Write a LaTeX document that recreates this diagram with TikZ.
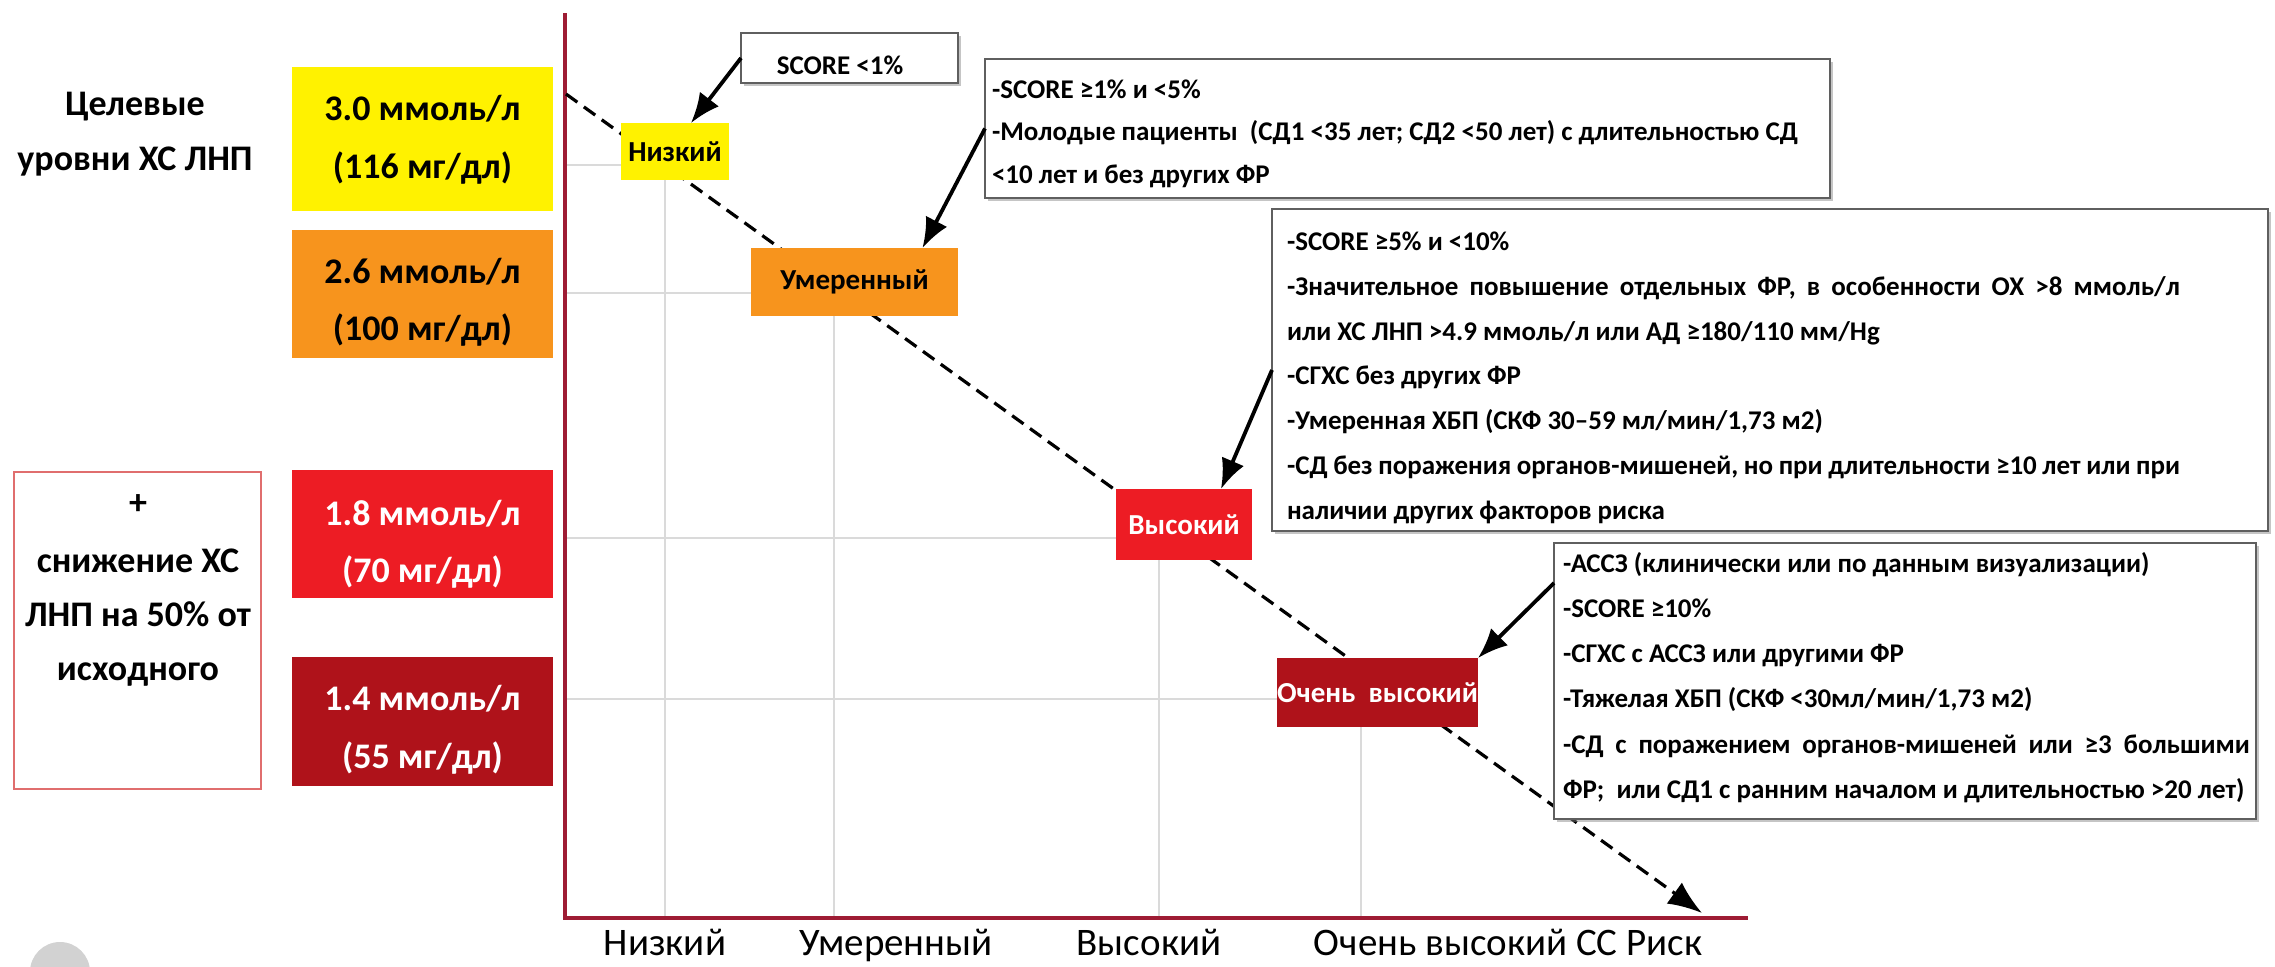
\documentclass[tikz,border=0pt]{standalone}
\usepackage{fontspec}
\setmainfont{Carlito}
\usetikzlibrary{arrows.meta,shadows}
\definecolor{cyel}{RGB}{255,242,0}
\definecolor{corg}{RGB}{247,148,29}
\definecolor{cred}{RGB}{237,28,36}
\definecolor{cdred}{RGB}{175,18,26}
\definecolor{caxis}{RGB}{158,28,52}
\definecolor{cgrid}{RGB}{218,218,218}
\definecolor{cbord}{RGB}{95,95,95}
\definecolor{cpink}{RGB}{224,110,110}
\begin{document}
\begin{tikzpicture}[x=0.5pt,y=-0.5pt,
  every node/.style={inner sep=0pt, outer sep=0pt},
  valbox/.style={rectangle, minimum width=130.5pt},
  big/.style={font=\fontsize{18pt}{18pt}\selectfont\bfseries, anchor=base},
  small/.style={font=\fontsize{13.5pt}{13.5pt}\selectfont\bfseries, anchor=base west},
  risklab/.style={rectangle, font=\fontsize{14.5pt}{14.5pt}\selectfont\bfseries},
  callout/.style={rectangle, draw=cbord, line width=1pt, fill=white,
    drop shadow={shadow xshift=1.5pt, shadow yshift=-1.5pt, opacity=0.45, fill=gray}},
  gridln/.style={draw=cgrid, line width=1pt},
  axisln/.style={draw=caxis, line width=1.6pt},
  trend/.style={draw=black, line width=1.6pt, dash pattern=on 7pt off 4pt},
  callarrow/.style={draw=black, line width=1.9pt, -{Latex[length=15pt,width=12pt]}},
  xlab/.style={font=\fontsize{19.5pt}{19.5pt}\selectfont, anchor=base},
]
\fill[white] (0,0) rectangle (2275,966);
\useasboundingbox (0,0) rectangle (2275,966);

% gray circle fragment
\fill[gray!35] (60,972) circle[radius=15pt];

% grid lines
\draw[gridln] (565,165) -- (621,165);
\draw[gridln] (565,293) -- (751,293);
\draw[gridln] (565,538) -- (1116,538);
\draw[gridln] (565,699) -- (1277,699);
\draw[gridln] (665,180) -- (665,918);
\draw[gridln] (834,316) -- (834,918);
\draw[gridln] (1159,560) -- (1159,918);
\draw[gridln] (1361,727) -- (1361,918);

% axes
\coordinate (ytop) at (565,13);
\coordinate (orig) at (565,918);
\coordinate (xend) at (1748,918);
\draw[axisln] (ytop) -- (orig) -- (xend);

% trend line
\coordinate (tstart) at (566,94);
\coordinate (tend) at (1702,913);
\draw[trend, -{Latex[length=17pt,width=13pt]}] (tstart) -- (tend);

% left header
\node[big] (hd1) at (135,115) {Целевые};
\node[big] (hd2) at (135,170) {уровни ХС ЛНП};

% target value boxes
\node[valbox, fill=cyel, minimum height=72pt] (v30) at (422.5,139) {};
\node[big] (v30a) at (422.5,120) {3.0 ммоль/л};
\node[big] (v30b) at (422.5,178) {(116 мг/дл)};
\node[valbox, fill=corg, minimum height=64pt] (v26) at (422.5,294) {};
\node[big] (v26a) at (422.5,283) {2.6 ммоль/л};
\node[big] (v26b) at (422.5,340) {(100 мг/дл)};
\node[valbox, fill=cred, minimum height=64pt] (v18) at (422.5,534) {};
\node[big, text=white] (v18a) at (422.5,525) {1.8 ммоль/л};
\node[big, text=white] (v18b) at (422.5,582) {(70 мг/дл)};
\node[valbox, fill=cdred, minimum height=64.5pt] (v14) at (422.5,721.5) {};
\node[big, text=white] (v14a) at (422.5,710) {1.4 ммоль/л};
\node[big, text=white] (v14b) at (422.5,768) {(55 мг/дл)};

% pink box
\node[rectangle, draw=cpink, line width=0.7pt, minimum width=123.5pt, minimum height=158.5pt] (pk) at (137.5,630.5) {};
\node[big] (pk1) at (138,514) {+};
\node[big] (pk2) at (138,572) {снижение ХС};
\node[big] (pk3) at (138,626) {ЛНП на 50\% от};
\node[big] (pk4) at (138,680) {исходного};

% risk boxes
\node[risklab, fill=cyel, minimum width=54pt, minimum height=28.5pt] (low) at (675,151.5) {Низкий};
\node[risklab, fill=corg, minimum width=103.5pt, minimum height=34pt] (mod) at (854.5,282) {Умеренный};
\node[risklab, fill=cred, text=white, minimum width=68pt, minimum height=35.5pt] (high) at (1184,524.5) {Высокий};
\node[risklab, fill=cdred, text=white, minimum width=100.5pt, minimum height=34.5pt] (vhigh) at (1377.5,692.5) {Очень~~высокий};

% callout boxes
\node[callout, minimum width=108.5pt, minimum height=25pt] (sc1) at (849.5,58) {};
\node[callout, minimum width=422.5pt, minimum height=69.5pt] (sc2) at (1407.5,128.5) {};
\node[callout, minimum width=498pt, minimum height=161pt] (sc3) at (1770,370) {};
\node[callout, minimum width=351pt, minimum height=138pt] (sc4) at (1905,681) {};

% callout arrows
\draw[callarrow] (sc1.west) -- ([xshift=8pt]low.north);
\draw[callarrow] (sc2.west) -- ([xshift=34pt]mod.north);
\draw[callarrow] (sc3.west) -- ([xshift=18.5pt]high.north);
\draw[callarrow] ([yshift=49pt]sc4.west) -- (vhigh.north east);

% callout texts
\node[small, anchor=base] (t1) at (840,74) {SCORE <1\%};

\node[small] (t2a) at (992,98) {-SCORE ≥1\% и <5\%};
\node[small] (t2b) at (992,140) {-Молодые пациенты~~(СД1 <35 лет; СД2 <50 лет) с длительностью СД};
\node[small] (t2c) at (992,183) {<10 лет и без других ФР};

\node[small] (t3a) at (1287,250) {-SCORE ≥5\% и <10\%};
\node[small] (t3b) at (1287,295) {\makebox[446.5pt][s]{-Значительное повышение отдельных ФР, в особенности ОХ >8 ммоль/л}};
\node[small] (t3c) at (1287,340) {или ХС ЛНП >4.9 ммоль/л или АД ≥180/110 мм/Hg};
\node[small] (t3d) at (1287,384) {-СГХС без других ФР};
\node[small] (t3e) at (1287,429) {-Умеренная ХБП (СКФ 30–59 мл/мин/1,73 м2)};
\node[small] (t3f) at (1287,474) {\makebox[446.5pt][s]{-СД без поражения органов-мишеней, но при длительности ≥10 лет или при}};
\node[small] (t3g) at (1287,519) {наличии других факторов риска};

\node[small] (t4a) at (1563,572) {-АССЗ (клинически или по данным визуализации)};
\node[small] (t4b) at (1563,617) {-SCORE ≥10\%};
\node[small] (t4c) at (1563,662) {-СГХС с АССЗ или другими ФР};
\node[small] (t4d) at (1563,707) {-Тяжелая ХБП (СКФ <30мл/мин/1,73 м2)};
\node[small] (t4e) at (1563,753) {\makebox[343.5pt][s]{-СД с поражением органов-мишеней или ≥3 большими}};
\node[small] (t4f) at (1563,798) {ФР;~~или СД1 с ранним началом и длительностью >20 лет)};

% x-axis labels
\node[xlab] (x1) at (665,955) {Низкий};
\node[xlab] (x2) at (896,955) {Умеренный};
\node[xlab] (x3) at (1149,955) {Высокий};
\node[xlab] (x4) at (1508,955) {Очень высокий СС Риск};
\end{tikzpicture}
\end{document}
